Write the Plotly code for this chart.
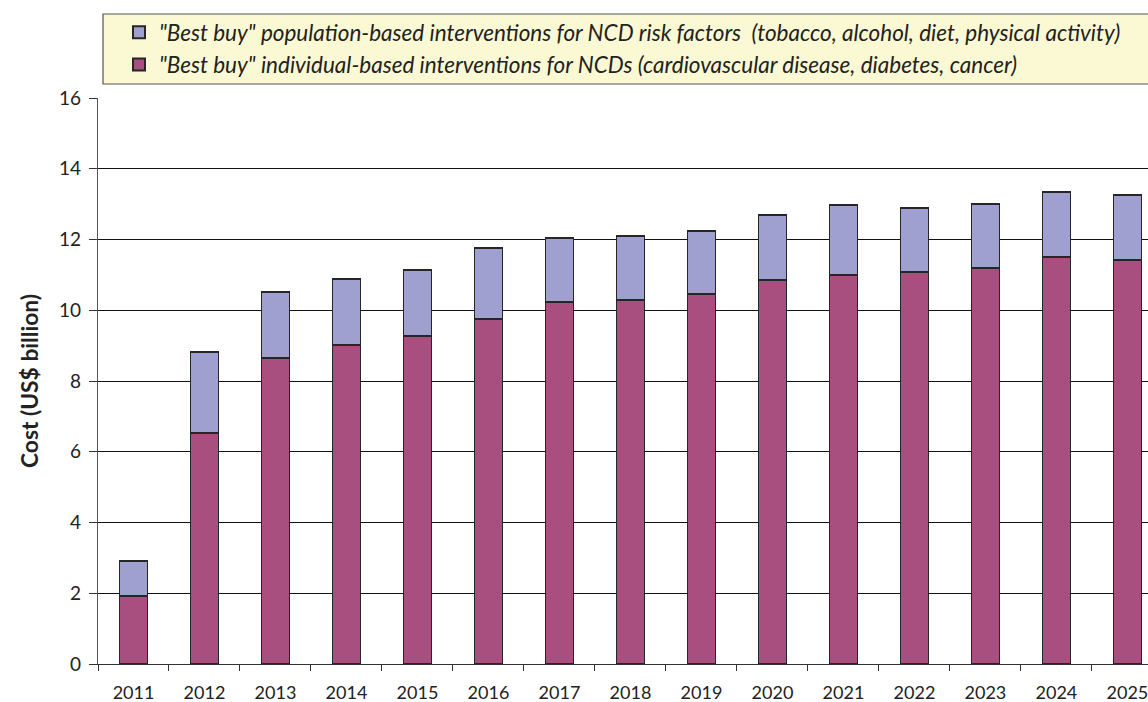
import plotly.graph_objects as go

years = ["2011", "2012", "2013", "2014", "2015", "2016", "2017", "2018",
         "2019", "2020", "2021", "2022", "2023", "2024", "2025"]
individual = [1.92, 6.53, 8.65, 9.02, 9.27, 9.75, 10.23, 10.29,
              10.46, 10.86, 11.00, 11.08, 11.19, 11.51, 11.42]
totals = [2.91, 8.82, 10.52, 10.88, 11.14, 11.76, 12.04, 12.10,
          12.24, 12.69, 12.98, 12.89, 13.00, 13.34, 13.26]
population = [round(t - i, 2) for t, i in zip(totals, individual)]

name_pop = '"Best buy" population-based interventions for NCD risk factors  (tobacco, alcohol, diet, physical activity)'
name_ind = '"Best buy" individual-based interventions for NCDs (cardiovascular disease, diabetes, cancer)'

W, H = 1148, 702
L, R, T, B = 98, 0, 98, 38
pw, ph = W - L - R, H - T - B

fig = go.Figure()
fig.add_trace(go.Bar(x=years, y=individual, name="<i>" + name_ind + "</i>",
                     marker=dict(color="#A84F80", line=dict(color="#262626", width=1.6))))
fig.add_trace(go.Bar(x=years, y=population, name="<i>" + name_pop + "</i>",
                     marker=dict(color="#9FA0D0", line=dict(color="#262626", width=1.6))))

# legend box
fig.add_shape(type="rect", xref="paper", yref="paper",
              x0=(103 - L) / pw, x1=1.05,
              y0=1 + (T - 84) / ph, y1=1 + (T - 14) / ph,
              fillcolor="#FBF9D3", line=dict(color="#555555", width=1.2), layer="below")

fig.update_layout(
    width=W, height=H,
    margin=dict(l=L, r=R, t=T, b=B),
    barmode="stack", bargap=0.605,
    plot_bgcolor="white", paper_bgcolor="white",
    font=dict(family="Lato, Open Sans, sans-serif", color="#222222", size=16),
    legend=dict(x=(119 - L) / pw, xanchor="left", y=1 + (T - 11) / ph, yanchor="top",
                traceorder="reversed", bgcolor="rgba(0,0,0,0)",
                font=dict(size=22.5, family="Lato, sans-serif"),
                itemsizing="constant", tracegroupgap=0),
    xaxis=dict(type="category", range=[-0.5, 14.29], tickson="boundaries",
               ticks="outside", ticklen=6, tickcolor="#333", showline=True,
               linecolor="#333", linewidth=1, tickfont=dict(size=18),
               ticklabelstandoff=12),
    yaxis=dict(range=[0, 16], dtick=2, showgrid=True, gridcolor="#111", gridwidth=1,
               ticks="outside", ticklen=8, tickcolor="#333", showline=True,
               linecolor="#555", linewidth=1.2, zeroline=False,
               tickfont=dict(size=19), ticklabelstandoff=4,
               title=dict(text="<b>Cost (US$ billion)</b>", font=dict(size=22.8), standoff=14)),
)

fig.write_html("out.html", config={"displayModeBar": False},
               post_script="document.body.style.margin='0';document.body.style.overflow='hidden';")
